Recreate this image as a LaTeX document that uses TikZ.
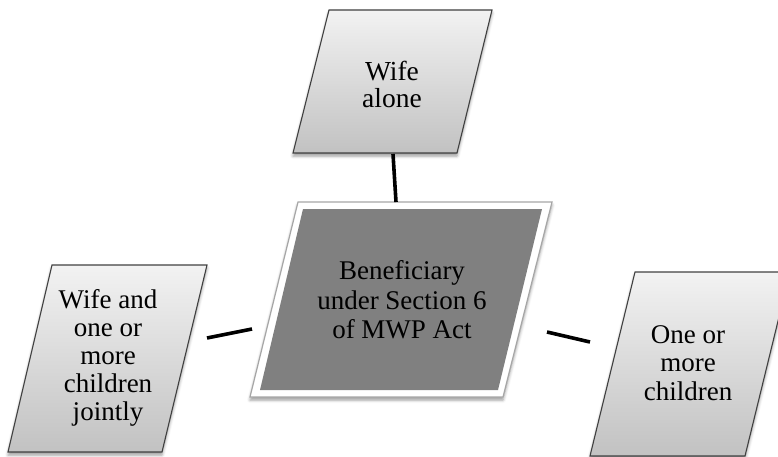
\documentclass[tikz,border=0pt]{standalone}
\usepackage{fontspec}
\setmainfont{Liberation Serif}
\usetikzlibrary{shadows.blur}
\tikzset{
  box/.style={draw=black!75, line width=1.1pt, top color=black!5, bottom color=black!24,
    blur shadow={shadow xshift=0pt, shadow yshift=-3pt, shadow blur radius=3pt}},
  frame/.style={draw=black!35, line width=1.2pt, fill=white,
    blur shadow={shadow xshift=0pt, shadow yshift=-3pt, shadow blur radius=3pt}},
  boxtext/.style={align=center, inner sep=0pt, text=black,
    font=\fontsize{27}{28.5}\selectfont},
  link/.style={line width=3.6pt, black},
}
\begin{document}
\begin{tikzpicture}[x=1pt,y=-1pt]
\useasboundingbox (0,0) rectangle (778,457);

\path[box] (329,10) -- (492,10) -- (457,153) -- (293,153) -- cycle;
\node[boxtext, font=\fontsize{27.5}{27}\selectfont] (wife) at (392,84) {Wife\\alone};

\path[frame] (298,202) -- (552,202) -- (503,397) -- (250,397) -- cycle;
\path[fill=black!50] (303,209) -- (542,209) -- (498,390) -- (260,390) -- cycle;
\node[boxtext, font=\fontsize{27}{29.5}\selectfont] (benef) at (402,300) {Beneficiary\\under Section 6\\of MWP Act};

\path[box] (52,265) -- (207,265) -- (162,452) -- (8,452) -- cycle;
\node[boxtext, font=\fontsize{27}{28}\selectfont] (joint) at (108,358) {Wife and\\one or\\more\\children\\jointly};

\path[box] (635,272) -- (790,272) -- (745,456) -- (590,456) -- cycle;
\node[boxtext] (child) at (688,363) {One or\\more\\children};

\coordinate (wife-s) at (393,154);
\coordinate (benef-n) at (396,202);
\coordinate (joint-e) at (207,338);
\coordinate (benef-w) at (252,329);
\coordinate (benef-e) at (547,332);
\coordinate (child-w) at (590,342);

\draw[link] (wife-s) -- (benef-n);
\draw[link] (joint-e) -- (benef-w);
\draw[link] (benef-e) -- (child-w);
\end{tikzpicture}
\end{document}
